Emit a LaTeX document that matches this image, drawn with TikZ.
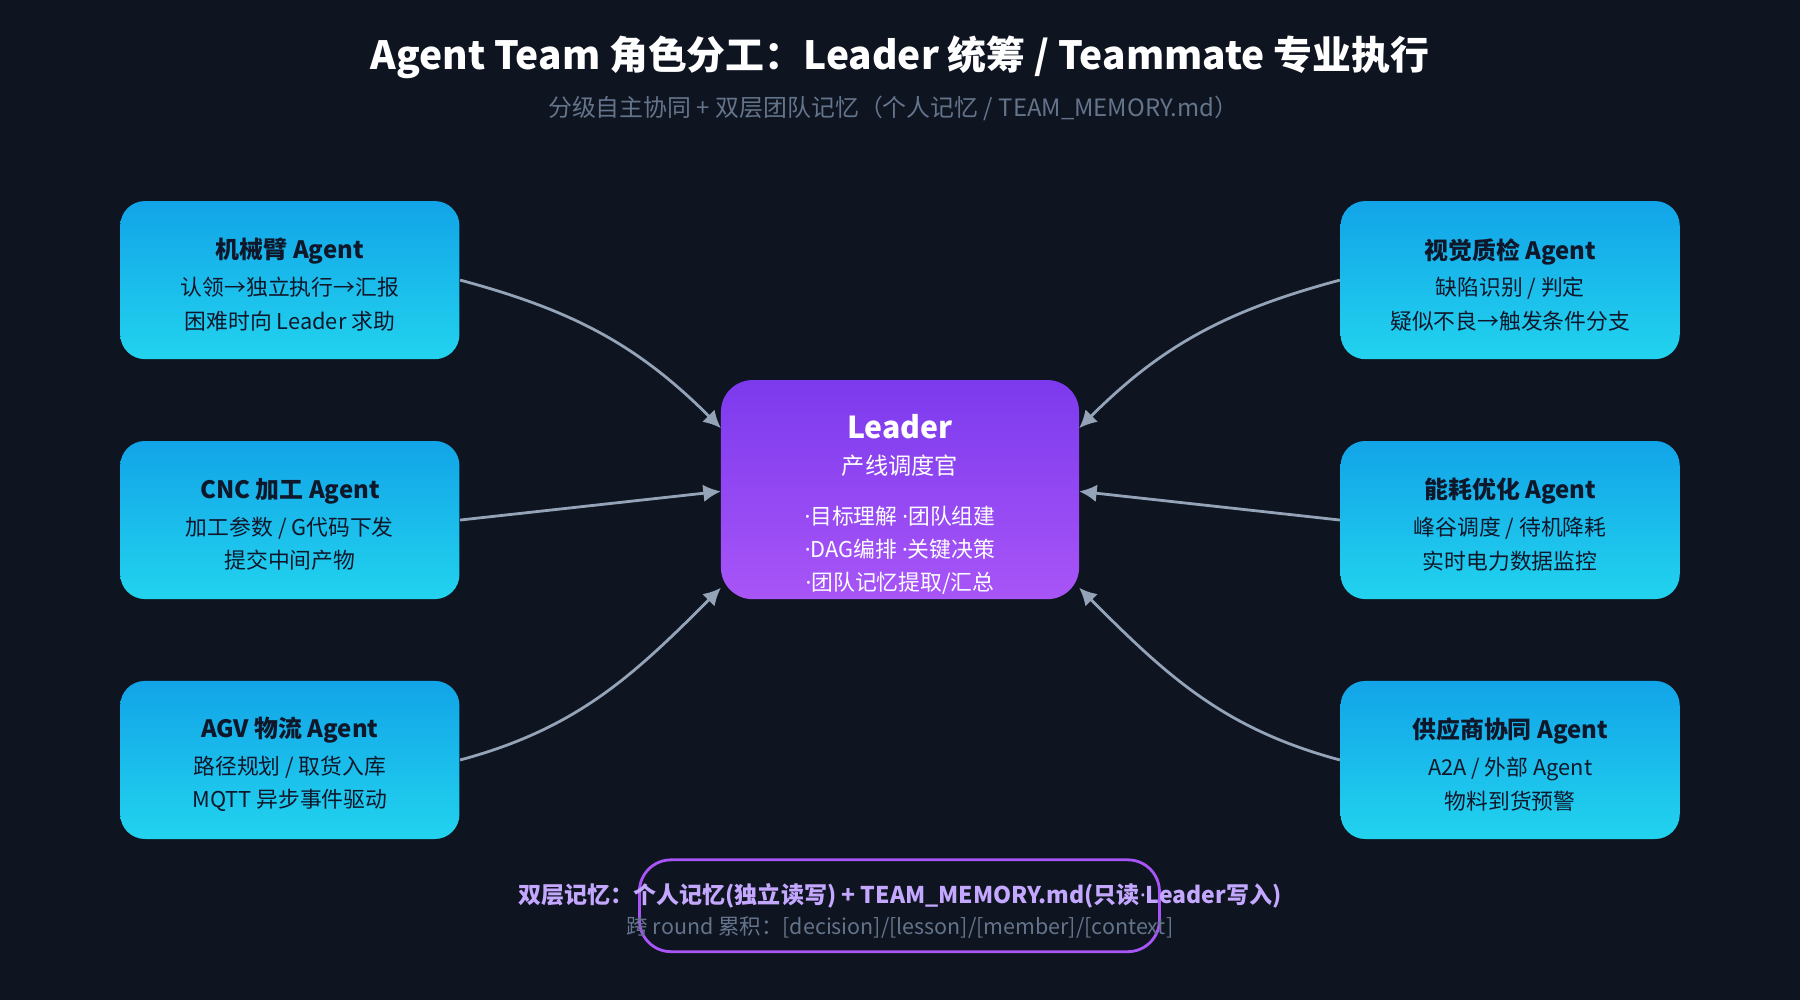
\documentclass[tikz,border=0pt]{standalone}
\usepackage{fontspec}
\setmainfont{Noto Sans CJK SC}
\newfontfamily\latinf{Noto Sans}
\usetikzlibrary{arrows.meta,positioning}
\definecolor{bgc}{HTML}{0E1420}
\definecolor{darkt}{HTML}{0F172A}
\definecolor{subt}{HTML}{64748B}
\definecolor{arr}{HTML}{94A3B8}
\definecolor{lilac}{HTML}{C4A8FF}
\newcommand{\dt}{{\latinf\textperiodcentered}}
\tikzset{
  agent/.style={rounded corners=7pt, minimum width=3.39cm, minimum height=1.58cm,
    top color={rgb,255:red,18;green,164;blue,232},
    bottom color={rgb,255:red,34;green,211;blue,238}},
  agtext/.style={text=darkt, align=center, font=\fontsize{6.2}{9.5}\selectfont},
  link/.style={draw=arr, line width=0.8pt, -{Latex[length=5pt,width=5pt]}}
}
\begin{document}
\begin{tikzpicture}[x=0.01148cm,y=-0.01148cm]
  \fill[bgc] (0,0) rectangle (1568,871);
  \node[white, font=\fontsize{11.05}{13}\selectfont\bfseries] (title) at (784,50) {Agent Team 角色分工：Leader 统筹 / Teammate 专业执行};
  \node[subt, font=\fontsize{6.8}{8}\selectfont] (sub) at (778,94) {分级自主协同 + 双层团队记忆（个人记忆 / TEAM\_MEMORY.md）};
  % leader
  \node[rounded corners=9pt, minimum width=3.58cm, minimum height=2.19cm,
    top color={rgb,255:red,124;green,58;blue,237}, bottom color={rgb,255:red,168;green,85;blue,247}] (lead) at (784,426.5) {};
  \node[text=white, align=center, font=\fontsize{6.2}{9.3}\selectfont] (leadtxt) at (784,439)
    {\fontsize{8.6}{11}\selectfont\bfseries Leader\\[1pt]
     \fontsize{6.6}{10}\selectfont\mdseries 产线调度官\\[5pt]
     \fontsize{6.2}{9.3}\selectfont \dt 目标理解 \dt 团队组建\\\dt DAG编排 \dt 关键决策\\\dt 团队记忆提取/汇总};
  % agents
  \foreach \nm/\x/\y/\ttl/\la/\lb in {
    arm/252.5/244/机械臂 Agent/认领→独立执行→汇报/困难时向 Leader 求助,
    cnc/252.5/453/CNC 加工 Agent/{加工参数 / G代码下发}/提交中间产物,
    agv/252.5/662/AGV 物流 Agent/{路径规划 / 取货入库}/MQTT 异步事件驱动,
    vis/1315.5/244/视觉质检 Agent/{缺陷识别 / 判定}/疑似不良→触发条件分支,
    nrg/1315.5/453/能耗优化 Agent/{峰谷调度 / 待机降耗}/实时电力数据监控,
    spl/1315.5/662/供应商协同 Agent/{A2A / 外部 Agent}/物料到货预警}{
    \node[agent] (\nm) at (\x,\y) {};
    \node[agtext] (\nm-t) at (\x,\y+4) {\fontsize{6.8}{10}\selectfont\bfseries \ttl\\[1pt] \fontsize{6.2}{9.5}\selectfont\mdseries \la\\ \lb};
  }
  \coordinate (l1) at (628,373); \coordinate (l2) at (628,428); \coordinate (l3) at (628,512);
  \coordinate (r1) at (940,373); \coordinate (r2) at (940,428); \coordinate (r3) at (940,512);
  \draw[link] (arm.east) to[out=-15,in=135] (l1);
  \draw[link] (cnc.east) -- (l2);
  \draw[link] (agv.east) to[out=15,in=-135] (l3);
  \draw[link] (vis.west) to[out=195,in=45] (r1);
  \draw[link] (nrg.west) -- (r2);
  \draw[link] (spl.west) to[out=165,in=-45] (r3);
  % memory note
  \draw[draw={rgb,255:red,168;green,85;blue,247}, line width=0.8pt, rounded corners=9pt] (557,749) rectangle (1010,829);
  \node[lilac, font=\fontsize{6.55}{8}\selectfont\bfseries] (mem) at (784,780) {双层记忆：个人记忆(独立读写) + TEAM\_MEMORY.md(只读\dt Leader写入)};
  \node[subt, font=\fontsize{6.1}{8}\selectfont] (memsub) at (784,808) {跨 round 累积：[decision]/[lesson]/[member]/[context]};
\end{tikzpicture}
\end{document}
